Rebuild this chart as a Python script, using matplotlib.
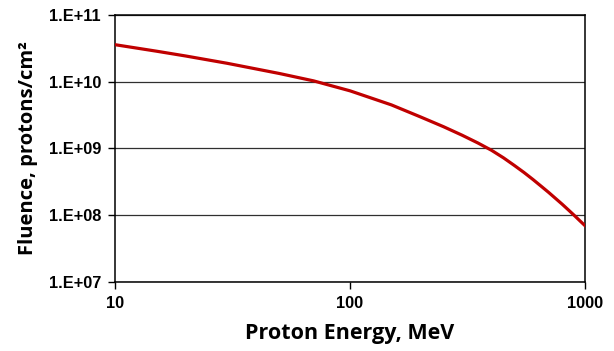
import numpy as np
import matplotlib.pyplot as plt
from matplotlib.ticker import FixedLocator, FuncFormatter, NullLocator

# データ
energy = [10, 15, 20, 30, 50, 70, 100, 150, 200, 250, 300, 350, 400, 450, 500,
          550, 600, 650, 700, 750, 800, 850, 900, 950, 1000]
fluence = [3.59e10, 2.87e10, 2.43e10, 1.89e10, 1.33e10, 1.03e10, 7.31e9, 4.50e9,
           2.96e9, 2.12e9, 1.58e9, 1.21e9, 9.40e8, 7.24e8, 5.58e8, 4.37e8, 3.44e8,
           2.73e8, 2.20e8, 1.78e8, 1.46e8, 1.20e8, 9.95e7, 8.28e7, 6.98e7]
xticks = [10, 100, 1000]
yticks = [1e7, 1e8, 1e9, 1e10, 1e11]

fig = plt.figure(figsize=(6.14, 3.51), dpi=100)
ax = fig.add_axes([0.1873, 0.1966, 0.7655, 0.7607])

ax.plot(energy, fluence, color='#C00000', lw=2.3, solid_joinstyle='round', zorder=3)

ax.set_xscale('log')
ax.set_yscale('log')
ax.set_xlim(10, 1000)
ax.set_ylim(1e7, 1e11)

ax.xaxis.set_major_locator(FixedLocator(xticks))
ax.xaxis.set_minor_locator(NullLocator())
ax.yaxis.set_major_locator(FixedLocator(yticks))
ax.yaxis.set_minor_locator(NullLocator())
ax.xaxis.set_major_formatter(FuncFormatter(lambda v, p: '%d' % round(v)))
ax.yaxis.set_major_formatter(FuncFormatter(lambda v, p: '1.E+%02d' % round(np.log10(v))))

ax.grid(axis='y', color='#303030', lw=0.9)
ax.set_axisbelow(True)
for s in ax.spines.values():
    s.set_linewidth(1.1)
    s.set_color('black')

ax.tick_params(axis='both', direction='out', length=5, width=1, pad=5)
for lab in ax.get_xticklabels() + ax.get_yticklabels():
    lab.set_fontfamily('Liberation Sans')
    lab.set_fontweight('bold')
    lab.set_fontsize(11.8)

ax.set_xlabel('Proton Energy, MeV', fontfamily='Open Sans', fontweight='bold',
              fontsize=15.5, labelpad=9)
ax.set_ylabel('Fluence, protons/cm²', fontfamily='Open Sans', fontweight='bold',
              fontsize=14.5, labelpad=8)

fig.savefig('out.png', dpi=100)
